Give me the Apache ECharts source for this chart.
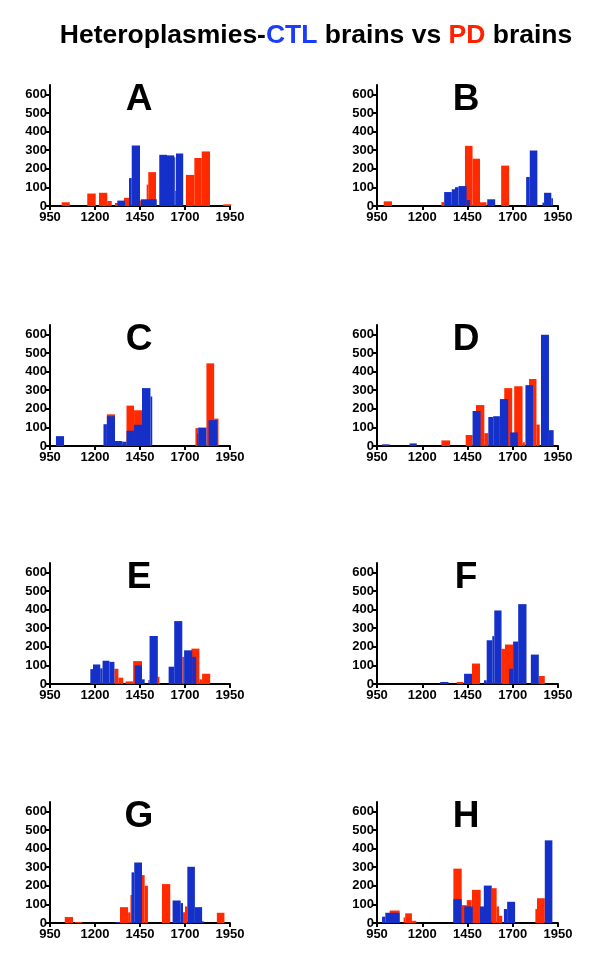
<!DOCTYPE html>
<html><head><meta charset="utf-8">
<script src="https://cdn.jsdelivr.net/npm/echarts@6/dist/echarts.min.js"></script>
<style>html,body{margin:0;padding:0;background:#fff}#c{width:600px;height:965px}</style>
</head><body><div id="c"></div>
<script>
// ---- data ----
const xTicks = [950, 1200, 1450, 1700, 1950];
const yTicks = [0, 100, 200, 300, 400, 500, 600];
const panelLabels = ['A', 'B', 'C', 'D', 'E', 'F', 'G', 'H'];
// each bar: [start, end, count]
const A_PD = [[1015,1060,20],[1157,1204,67],[1222,1268,71],[1268,1293,27],[1311,1330,16],[1361,1391,44],[1440,1455,30],[1487,1496,115],[1496,1539,182],[1705,1752,167],[1752,1793,258],[1793,1839,293],[1913,1957,9]];
const A_CTL = [[1324,1367,29],[1389,1404,150],[1404,1450,325],[1455,1543,36],[1557,1600,275],[1600,1640,272],[1640,1646,262],[1646,1650,80],[1650,1690,282]];
const B_PD = [[987,1033,25],[1306,1321,21],[1436,1478,323],[1478,1519,254],[1519,1555,20],[1636,1680,217]];
const B_CTL = [[1321,1363,75],[1363,1381,90],[1381,1400,101],[1400,1445,107],[1445,1464,32],[1559,1603,36],[1774,1794,156],[1794,1836,298],[1864,1873,18],[1873,1913,71],[1913,1922,41]];
const C_PD = [[1266,1311,170],[1375,1417,217],[1417,1461,192],[1758,1773,96],[1819,1862,444],[1862,1886,147]];
const C_CTL = [[983,1028,53],[1247,1266,117],[1266,1311,160],[1311,1351,27],[1351,1375,23],[1375,1417,82],[1417,1461,114],[1461,1508,311],[1508,1518,266],[1768,1773,67],[1773,1819,99],[1831,1880,139]];
const D_PD = [[1306,1354,30],[1440,1478,59],[1497,1543,220],[1543,1565,69],[1653,1697,311],[1708,1754,321],[1754,1767,20],[1790,1831,360],[1831,1849,115]];
const D_CTL = [[978,1020,9],[1130,1170,14],[1478,1522,188],[1565,1592,156],[1592,1629,160],[1629,1675,252],[1686,1728,73],[1770,1812,327],[1856,1900,597],[1900,1926,85]];
const E_PD = [[1308,1330,82],[1330,1357,34],[1370,1412,14],[1412,1461,123],[1549,1558,39],[1685,1695,146],[1736,1780,190],[1780,1795,25],[1795,1840,55]];
const E_CTL = [[1174,1189,80],[1189,1229,105],[1229,1242,84],[1242,1280,125],[1280,1308,119],[1421,1461,100],[1461,1476,25],[1497,1503,21],[1503,1549,258],[1609,1640,93],[1640,1685,338],[1695,1740,181],[1740,1762,146]];
const F_PD = [[1390,1427,11],[1475,1519,110],[1638,1657,189],[1657,1702,212],[1844,1877,43]];
const F_CTL = [[1299,1345,11],[1431,1475,55],[1541,1556,20],[1556,1587,235],[1587,1598,257],[1598,1638,395],[1680,1702,82],[1702,1730,228],[1730,1776,429],[1800,1844,158]];
const G_PD = [[1032,1078,32],[1089,1129,5],[1339,1384,85],[1384,1397,57],[1397,1405,150],[1461,1476,257],[1476,1494,200],[1572,1618,209],[1689,1700,58],[1700,1713,89],[1877,1919,55]];
const G_CTL = [[1311,1339,5],[1403,1418,272],[1418,1461,325],[1631,1676,121],[1676,1689,107],[1713,1755,302],[1755,1795,85],[1795,1804,9]];
const H_PD = [[1020,1075,67],[1097,1106,30],[1106,1143,52],[1143,1167,12],[1372,1418,292],[1418,1446,96],[1446,1473,123],[1475,1523,178],[1584,1611,187],[1611,1624,89],[1624,1642,39],[1825,1834,75],[1834,1877,133]];
const H_CTL = [[978,996,34],[996,1075,55],[1372,1418,128],[1432,1479,89],[1519,1543,89],[1540,1584,201],[1651,1669,75],[1669,1713,114],[1877,1919,444]];

const pdSets = [A_PD, B_PD, C_PD, D_PD, E_PD, F_PD, G_PD, H_PD];
const ctlSets = [A_CTL, B_CTL, C_CTL, D_CTL, E_CTL, F_CTL, G_CTL, H_CTL];

// ---- styling / layout ----
const RED = '#ff2a00', BLUE = '#1430c8';
const colLeft = [50, 377], colWidth = [180, 181];
const rowTop = [85, 325, 563, 802], rowH = 121;
const FONT = '"Liberation Sans", Arial, sans-serif';

const chart = echarts.init(document.getElementById('c'), null, {renderer: 'canvas'});
const grids = [], xAxes = [], yAxes = [], series = [], graphics = [];

function makeRender(color) {
  return function (params, api) {
    const p0 = api.coord([api.value(0), api.value(2)]);
    const p1 = api.coord([api.value(1), 0]);
    return {type: 'rect', shape: {x: p0[0], y: p0[1], width: p1[0] - p0[0], height: p1[1] - p0[1]},
            style: {fill: color}};
  };
}
const plain = v => String(v);

for (let i = 0; i < 8; i++) {
  const col = i % 2, row = Math.floor(i / 2);
  grids.push({left: colLeft[col], top: rowTop[row], width: colWidth[col], height: rowH, containLabel: false});
  xAxes.push({
    type: 'value', gridIndex: i, min: 950, max: 1950,
    axisLine: {show: true, onZero: false, lineStyle: {color: '#000', width: 2}},
    axisTick: {show: true, customValues: xTicks, length: 4, lineStyle: {color: '#000', width: 2}},
    axisLabel: {customValues: xTicks, formatter: plain, color: '#000', fontWeight: 'bold', fontSize: 13, fontFamily: FONT, margin: 5},
    splitLine: {show: false}
  });
  yAxes.push({
    type: 'value', gridIndex: i, min: 0, max: 650,
    axisLine: {show: true, lineStyle: {color: '#000', width: 2}},
    axisTick: {show: true, customValues: yTicks, length: 4, lineStyle: {color: '#000', width: 2}},
    axisLabel: {customValues: yTicks, formatter: plain, color: '#000', fontWeight: 'bold', fontSize: 13, fontFamily: FONT, margin: 3},
    splitLine: {show: false}
  });
  series.push({type: 'custom', name: 'PD', xAxisIndex: i, yAxisIndex: i, renderItem: makeRender(RED),
               encode: {x: [0, 1], y: 2}, data: pdSets[i], clip: false, z: 2});
  series.push({type: 'custom', name: 'CTL', xAxisIndex: i, yAxisIndex: i, renderItem: makeRender(BLUE),
               encode: {x: [0, 1], y: 2}, data: ctlSets[i], clip: false, z: 3});
  graphics.push({type: 'text', x: col === 0 ? 139 : 466, y: rowTop[row] + rowH - 106,
    style: {text: panelLabels[i], font: 'bold 37px "Liberation Sans", Arial, sans-serif',
            fill: '#000', align: 'center', verticalAlign: 'middle'}});
}

graphics.push({type: 'text', x: 316, y: 36, style: {
  rich: {k: {fill: '#000'}, b: {fill: '#1a3cff'}, r: {fill: '#ff2200'}},
  text: '{k|Heteroplasmies-}{b|CTL}{k| brains vs }{r|PD}{k| brains}',
  font: 'bold 26.5px "Liberation Sans", Arial, sans-serif', align: 'center', verticalAlign: 'middle'}});

chart.setOption({
  animation: false,
  backgroundColor: '#fff',
  grid: grids, xAxis: xAxes, yAxis: yAxes, series: series, graphic: graphics
});
</script></body></html>
